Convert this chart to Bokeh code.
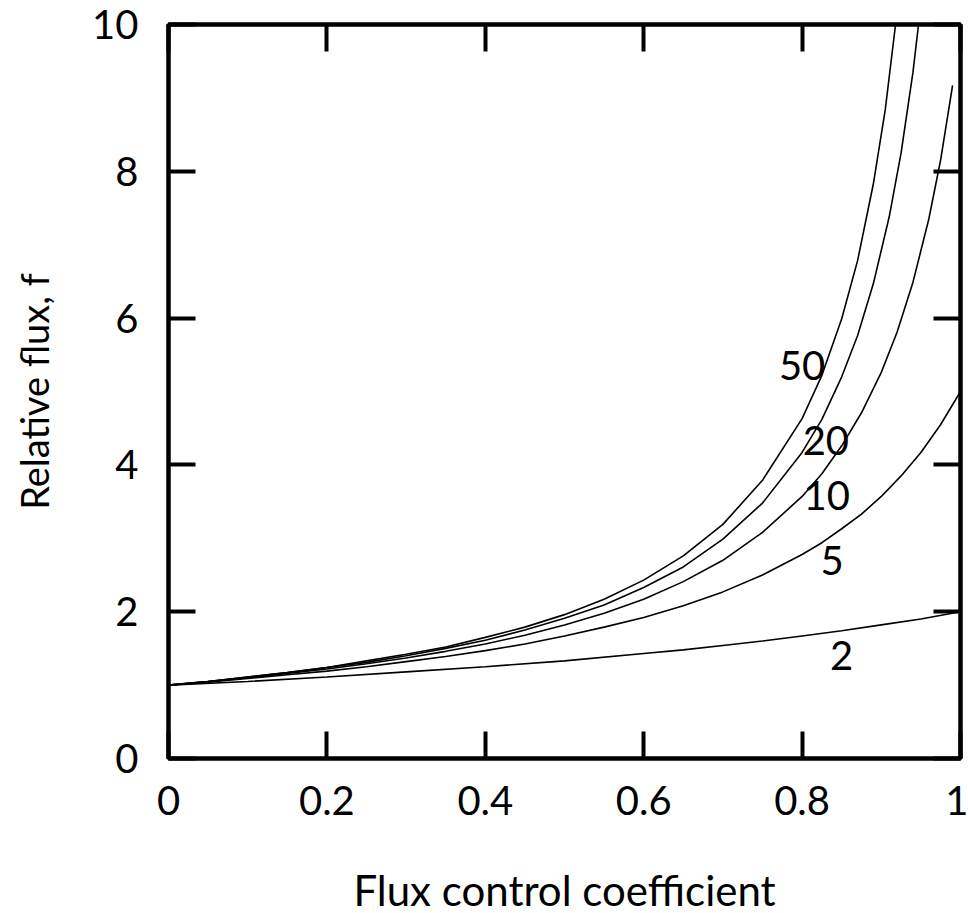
from bokeh.plotting import figure
from bokeh.models import LinearAxis, Range1d, FixedTicker, ColumnDataSource
from bokeh.core.properties import value
from bokeh.embed import file_html
from bokeh.resources import INLINE

# Values
c_r2 = [0.0, 0.1, 0.2, 0.3, 0.4, 0.5, 0.6, 0.65, 0.7, 0.75, 0.8, 0.85, 0.9, 0.95, 1.0]
f_r2 = [1.0, 1.05, 1.11, 1.18, 1.25, 1.33, 1.43, 1.48, 1.54, 1.60, 1.67, 1.74, 1.82, 1.90, 2.0]

c_r5 = [0.0, 0.05, 0.1, 0.15, 0.2, 0.25, 0.3, 0.35, 0.4, 0.45, 0.5, 0.55, 0.6, 0.65, 0.7, 0.75,
        0.8, 0.825, 0.85, 0.875, 0.9, 0.925, 0.95, 0.975, 1.0]
f_r5 = [1.0, 1.04, 1.09, 1.14, 1.19, 1.25, 1.32, 1.39, 1.47, 1.56, 1.67, 1.79, 1.92, 2.08, 2.27, 2.50,
        2.78, 2.94, 3.13, 3.33, 3.57, 3.85, 4.17, 4.55, 5.0]

c_r10 = [0.0, 0.05, 0.1, 0.15, 0.2, 0.25, 0.3, 0.35, 0.4, 0.45, 0.5, 0.55, 0.6, 0.65, 0.7, 0.75,
         0.8, 0.825, 0.85, 0.875, 0.9, 0.92, 0.94, 0.96, 0.975, 0.99]
f_r10 = [1.0, 1.05, 1.10, 1.16, 1.22, 1.29, 1.37, 1.46, 1.56, 1.68, 1.82, 1.98, 2.17, 2.41, 2.70, 3.08,
         3.57, 3.88, 4.26, 4.71, 5.26, 5.81, 6.49, 7.35, 8.16, 9.17]

c_r20 = [0.0, 0.05, 0.1, 0.15, 0.2, 0.25, 0.3, 0.35, 0.4, 0.45, 0.5, 0.55, 0.6, 0.65, 0.7, 0.75,
         0.8, 0.825, 0.85, 0.87, 0.89, 0.91, 0.925, 0.94, 0.947]
f_r20 = [1.0, 1.05, 1.11, 1.17, 1.24, 1.31, 1.40, 1.50, 1.61, 1.75, 1.91, 2.09, 2.33, 2.61, 2.99, 3.48,
         4.17, 4.62, 5.20, 5.76, 6.47, 7.38, 8.25, 9.35, 10.0]

c_r50 = [0.0, 0.05, 0.1, 0.15, 0.2, 0.25, 0.3, 0.35, 0.4, 0.45, 0.5, 0.55, 0.6, 0.65, 0.7, 0.75,
         0.8, 0.825, 0.85, 0.87, 0.89, 0.905, 0.918]
f_r50 = [1.0, 1.05, 1.11, 1.17, 1.24, 1.33, 1.42, 1.52, 1.65, 1.79, 1.96, 2.17, 2.43, 2.76, 3.19, 3.79,
         4.63, 5.22, 5.99, 6.78, 7.83, 8.84, 10.0]

curve_labels = ["50", "20", "10", "5", "2"]
label_x = [0.80, 0.83, 0.831, 0.838, 0.85]
label_y = [5.35, 4.33, 3.58, 2.70, 1.40]

x_ticks = [0, 0.2, 0.4, 0.6, 0.8, 1]
y_ticks = [0, 2, 4, 6, 8, 10]
x_title = "Flux control coefficient"
y_title = "Relative flux, f"

FONT = "Lato"
FS = "40px"
FS_XTITLE = "42px"
FS_YTITLE = "38px"

p = figure(width=968, height=913, frame_width=792, frame_height=734,
           x_range=Range1d(0, 1), y_range=Range1d(0, 10),
           output_backend="svg", toolbar_location=None,
           min_border_left=168, min_border_right=8, min_border_top=24, min_border_bottom=155)
p.background_fill_color = "white"
p.border_fill_color = "white"
p.grid.visible = False
p.outline_line_color = "black"
p.outline_line_width = 4

p.add_layout(LinearAxis(), "above")
p.add_layout(LinearAxis(), "right")

def style_axis(ax, ticks, show_labels):
    ax.ticker = FixedTicker(ticks=ticks)
    ax.axis_line_width = 4
    ax.axis_line_color = "black"
    ax.major_tick_in = 27
    ax.major_tick_out = 0
    ax.major_tick_line_width = 4
    ax.major_tick_line_color = "black"
    ax.minor_tick_line_color = None
    ax.major_label_text_font = FONT
    ax.major_label_text_font_size = FS
    ax.major_label_text_color = "black"
    if not show_labels:
        ax.major_label_text_alpha = 0
        ax.major_label_text_font_size = "1px"

for ax in p.below:
    style_axis(ax, x_ticks, True)
    ax.major_label_overrides = {0: "0", 1: "1"}
    ax.major_label_standoff = 27
    ax.axis_label = x_title
    ax.axis_label_text_font = FONT
    ax.axis_label_text_font_size = FS_XTITLE
    ax.axis_label_text_font_style = "normal"
    ax.axis_label_text_color = "black"
    ax.axis_label_standoff = 47
for ax in p.above:
    style_axis(ax, x_ticks, False)
for ax in p.left:
    style_axis(ax, y_ticks, True)
    ax.major_label_standoff = 30
    ax.axis_label = y_title
    ax.axis_label_text_font = FONT
    ax.axis_label_text_font_size = FS_YTITLE
    ax.axis_label_text_font_style = "normal"
    ax.axis_label_text_color = "black"
    ax.axis_label_standoff = 32
for ax in p.right:
    style_axis(ax, y_ticks, False)

for cx, fy in [(c_r2, f_r2), (c_r5, f_r5), (c_r10, f_r10), (c_r20, f_r20), (c_r50, f_r50)]:
    p.line(cx, fy, line_color="black", line_width=1.6)

src = ColumnDataSource(dict(x=label_x, y=label_y, t=curve_labels))
p.text(x="x", y="y", text="t", source=src, text_font=value(FONT), text_font_size=FS,
       text_align="center", text_baseline="middle", text_color="black")

open("out.html", "w").write(file_html(p, INLINE))
